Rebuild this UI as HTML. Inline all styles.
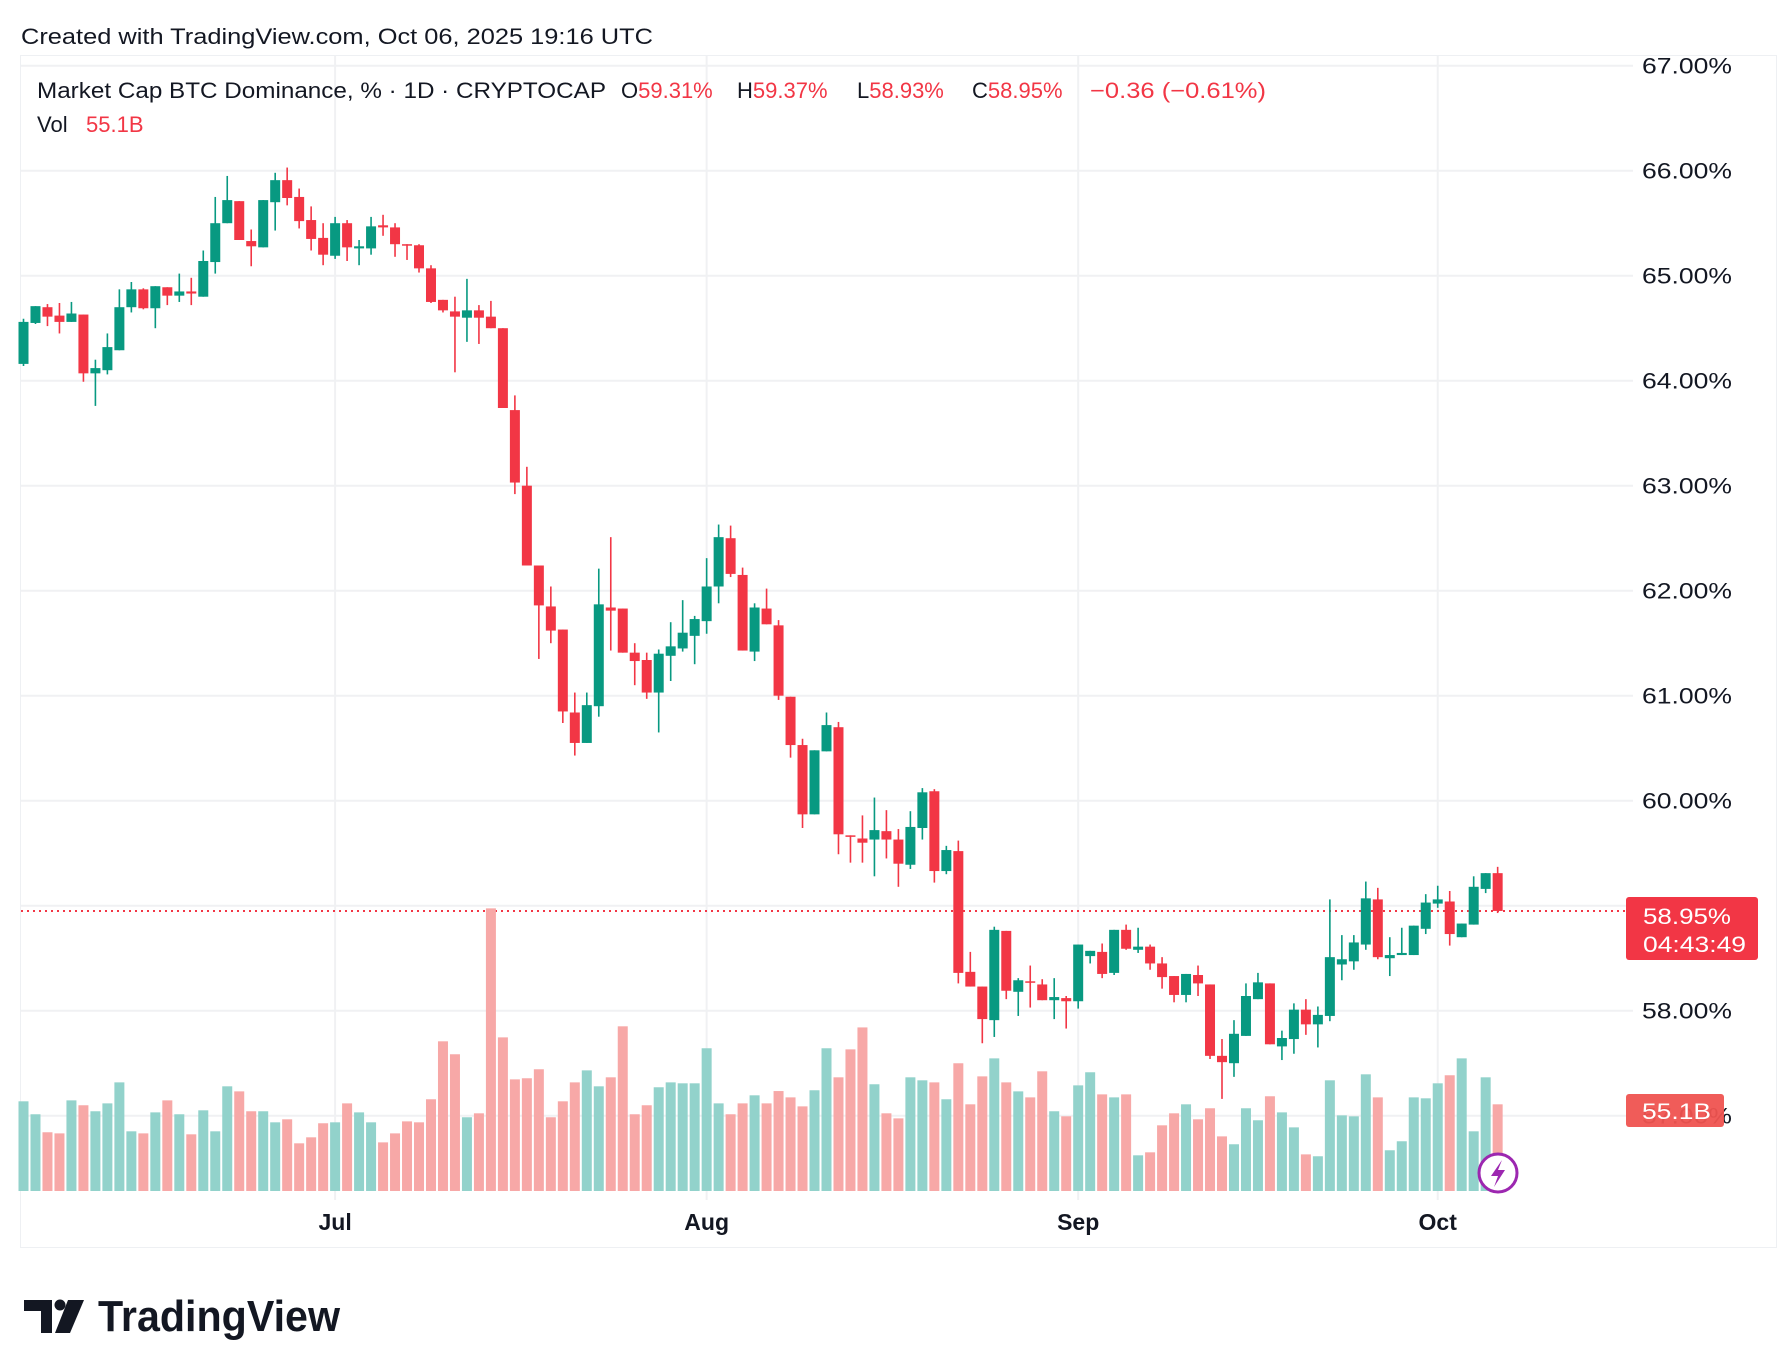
<!DOCTYPE html>
<html><head><meta charset="utf-8"><style>
html,body{margin:0;padding:0;background:#fff;}
svg{display:block;font-family:"Liberation Sans",sans-serif;}
</style></head><body>
<svg id="chart" width="1788" height="1368" viewBox="0 0 1788 1368" xmlns="http://www.w3.org/2000/svg">
<text x="21" y="44" font-size="22" fill="#131722" textLength="632" lengthAdjust="spacingAndGlyphs">Created with TradingView.com, Oct 06, 2025 19:16 UTC</text>
<rect x="20.5" y="55.5" width="1756" height="1192" fill="none" stroke="#eef0f3" stroke-width="1"/>
<g id="grid"></g>
<g id="vol"></g>
<g id="candles"></g>
<g id="yaxis"></g>
<g id="xaxis"></g>
<g font-size="22">
<text x="37" y="98" fill="#131722" textLength="569" lengthAdjust="spacingAndGlyphs">Market Cap BTC Dominance, % · 1D · CRYPTOCAP</text>
<text x="621" y="98" fill="#131722">O<tspan fill="#f23645">59.31%</tspan></text>
<text x="737" y="98" fill="#131722">H<tspan fill="#f23645">59.37%</tspan></text>
<text x="857" y="98" fill="#131722">L<tspan fill="#f23645">58.93%</tspan></text>
<text x="972" y="98" fill="#131722">C<tspan fill="#f23645">58.95%</tspan></text>
<text x="1090" y="98" fill="#f23645" textLength="176" lengthAdjust="spacingAndGlyphs">−0.36 (−0.61%)</text>
<text x="37" y="132" fill="#131722">Vol <tspan x="86" fill="#f23645">55.1B</tspan></text>
</g>
<g>
<rect x="1626" y="897" width="132" height="63" rx="3" fill="#f23645"/>
<text x="1643" y="924" font-size="22" fill="#fff" textLength="88" lengthAdjust="spacingAndGlyphs">58.95%</text>
<text x="1643" y="952" font-size="22" fill="#fff" textLength="103" lengthAdjust="spacingAndGlyphs">04:43:49</text>
</g>
<g>
<rect x="1626" y="1094" width="98" height="33" rx="3" fill="#ef5350" opacity="0.95"/>
<text x="1642" y="1119" font-size="22" fill="#fff" textLength="69" lengthAdjust="spacingAndGlyphs">55.1B</text>
</g>
<g>
<circle cx="1498" cy="1173" r="19" fill="#fff" stroke="#9c27b0" stroke-width="3"/>
<path d="M1502 1160 L1491 1176 L1498 1176 L1494 1187 L1505 1170 L1498 1170 Z" fill="#9c27b0"/>
</g>
<g>
<path d="M24 1300 H52 V1333 H41 V1311 H24 Z" fill="#131722"/>
<circle cx="60" cy="1305" r="5.5" fill="#131722"/>
<path d="M68 1300 H84 L70 1333 H55 Z" fill="#131722"/>
<text x="98" y="1331" font-size="44" font-weight="bold" fill="#131722" textLength="242" lengthAdjust="spacingAndGlyphs">TradingView</text>
</g>
</svg>
<script>
const opens=[64.16,64.55,64.70,64.62,64.56,64.63,64.07,64.10,64.29,64.70,64.87,64.69,64.89,64.81,64.85,64.80,65.13,65.50,65.71,65.33,65.27,65.70,65.91,65.75,65.53,65.36,65.19,65.50,65.26,65.26,65.48,65.46,65.30,65.29,65.07,64.77,64.66,64.60,64.67,64.61,64.50,63.72,63.00,62.24,61.85,61.63,60.84,60.55,60.90,61.84,61.83,61.41,61.34,61.03,61.38,61.45,61.57,61.71,62.04,62.50,62.15,61.42,61.83,61.67,60.99,60.53,59.87,60.47,60.70,59.67,59.64,59.63,59.71,59.63,59.39,59.74,60.09,59.33,59.52,58.37,58.23,57.91,58.76,58.18,58.28,58.25,58.10,58.12,58.09,58.52,58.56,58.36,58.77,58.58,58.61,58.45,58.33,58.15,58.34,58.25,57.57,57.50,57.76,58.11,58.26,57.66,57.73,58.01,57.87,57.95,58.44,58.47,58.63,59.06,58.50,58.53,58.53,58.78,59.02,59.04,58.70,58.82,59.16,59.31];
const highs=[64.59,64.71,64.73,64.74,64.75,64.63,64.20,64.45,64.87,64.94,64.88,64.90,64.89,65.02,64.98,65.24,65.75,65.95,65.71,65.44,65.72,65.98,66.03,65.83,65.66,65.50,65.56,65.53,65.34,65.56,65.58,65.50,65.30,65.30,65.10,64.77,64.80,64.97,64.72,64.76,64.50,63.86,63.18,62.24,62.04,61.63,61.03,61.03,62.21,62.51,61.83,61.50,61.41,61.44,61.70,61.91,61.76,62.31,62.63,62.62,62.22,61.88,62.02,61.72,60.99,60.59,60.48,60.84,60.75,59.67,59.86,60.03,59.91,59.73,59.90,60.12,60.11,59.57,59.62,58.56,58.23,58.80,58.76,58.31,58.43,58.30,58.31,58.14,58.63,58.57,58.64,58.77,58.82,58.79,58.63,58.51,58.33,58.35,58.43,58.25,57.73,57.91,58.26,58.36,58.26,57.81,58.07,58.11,58.04,59.06,58.72,58.72,59.23,59.17,58.70,58.79,58.81,59.11,59.19,59.14,58.83,59.28,59.31,59.37];
const lows=[64.14,64.54,64.52,64.45,64.56,63.99,63.76,64.06,64.29,64.65,64.68,64.50,64.72,64.75,64.72,64.80,65.02,65.50,65.34,65.09,65.27,65.43,65.67,65.45,65.24,65.10,65.16,65.14,65.10,65.20,65.38,65.18,65.15,65.03,64.74,64.65,64.08,64.37,64.35,64.50,63.74,62.92,62.24,61.35,61.50,60.74,60.43,60.55,60.80,61.43,61.41,61.10,60.97,60.65,61.14,61.42,61.30,61.59,61.88,62.13,61.43,61.33,61.68,60.96,60.41,59.74,59.87,60.47,59.49,59.41,59.41,59.28,59.45,59.18,59.35,59.63,59.22,59.30,58.26,58.23,57.69,57.75,58.11,57.95,58.03,58.10,57.92,57.83,58.02,58.45,58.31,58.34,58.58,58.55,58.39,58.21,58.08,58.08,58.14,57.54,57.16,57.37,57.76,58.11,57.68,57.53,57.59,57.77,57.65,57.90,58.29,58.39,58.58,58.49,58.33,58.53,58.53,58.73,58.98,58.62,58.70,58.82,59.12,58.93];
const closes=[64.56,64.71,64.61,64.56,64.64,64.07,64.12,64.32,64.70,64.87,64.69,64.90,64.81,64.85,64.83,65.14,65.50,65.72,65.34,65.28,65.72,65.91,65.74,65.52,65.35,65.20,65.50,65.27,65.28,65.47,65.46,65.30,65.29,65.07,64.75,64.67,64.61,64.67,64.60,64.50,63.74,63.03,62.24,61.86,61.62,60.85,60.55,60.91,61.87,61.81,61.41,61.33,61.03,61.40,61.47,61.60,61.73,62.04,62.51,62.16,61.43,61.84,61.68,61.00,60.53,59.87,60.48,60.72,59.68,59.66,59.60,59.72,59.63,59.40,59.75,60.08,59.33,59.53,58.36,58.23,57.92,58.77,58.19,58.29,58.27,58.10,58.13,58.09,58.63,58.57,58.35,58.77,58.59,58.61,58.45,58.32,58.15,58.35,58.26,57.57,57.51,57.78,58.14,58.27,57.68,57.74,58.01,57.87,57.96,58.51,58.49,58.65,59.07,58.51,58.53,58.55,58.81,59.03,59.06,58.73,58.83,59.18,59.31,58.95];
const volumes=[56.8,48.6,37.2,36.5,57.4,54.3,50.5,55.5,68.8,37.8,36.5,49.8,57.4,48.6,35.9,51.1,37.8,66.3,63.1,50.5,50.5,43.5,45.4,30.2,34.0,42.9,43.5,55.5,49.8,43.5,30.8,36.5,44.1,43.5,58.1,94.8,86.6,46.7,49.2,179.0,97.3,70.7,71.4,77.1,46.7,56.8,68.8,76.4,66.3,72.0,104.3,48.6,54.3,65.7,68.8,68.2,68.2,90.4,55.5,48.6,55.5,60.6,55.5,63.3,59.3,53.6,63.8,90.4,72.0,89.7,103.6,67.6,49.2,46.0,72.0,70.1,68.8,58.1,80.9,54.9,72.6,84.0,68.8,63.1,59.3,75.8,50.5,47.3,66.9,75.2,61.2,59.3,61.2,22.6,24.5,41.6,49.2,54.9,45.4,52.4,34.6,29.6,52.4,44.8,60.0,49.8,40.3,23.2,22.0,70.1,47.9,47.3,73.9,59.3,25.8,31.5,59.3,58.7,68.2,73.3,84.0,37.8,72.0,54.9];
const priceTicks=[67,66,65,64,63,62,61,60,59,58,57];
const dateLabels=["Jul","Aug","Sep","Oct"];
const dateIndex=[26,57,88,118];
const lastPrice=58.95;

const NS="http://www.w3.org/2000/svg";
const PLOT_L=21, PLOT_R=1633, PLOT_T=56, PLOT_B=1200, VOL_BASE=1191;
function xPos(i){return 23.5+11.985*i;}
function yPos(v){return 170.7+(66-v)*105;}
function vY(v){return VOL_BASE-v*1.579;}
function mk(tag,attrs,parent){const e=document.createElementNS(NS,tag);for(const k in attrs)e.setAttribute(k,attrs[k]);parent.appendChild(e);return e;}

const grid=document.getElementById('grid');
priceTicks.forEach((t)=>{
  const l=mk('line',{x1:PLOT_L,x2:PLOT_R,y1:yPos(t),y2:yPos(t),stroke:'#f0f1f3','stroke-width':2},grid);
  
  
});
dateIndex.forEach((d)=>{
  const l=mk('line',{x1:xPos(d),x2:xPos(d),y1:PLOT_T,y2:PLOT_B,stroke:'#f0f1f3','stroke-width':2},grid);
  
  
});

const vg=document.getElementById('vol');
volumes.forEach((v,i)=>{
  const up=closes[i]>=opens[i];
  const r=mk('rect',{x:xPos(i)-5,y:vY(v),width:10,height:VOL_BASE-vY(v),fill:up?'#92d2cb':'#f7a8a7'},vg);
  
  
});

const pl=mk('line',{x1:PLOT_L,x2:PLOT_R,y1:yPos(lastPrice),y2:yPos(lastPrice),stroke:'#f23645','stroke-width':2,'stroke-dasharray':'2 4'},grid);



const cg=document.getElementById('candles');
opens.forEach((o,i)=>{
  const c=closes[i], up=c>=o, col=up?'#089981':'#f23645';
  const g=mk('g',{},cg);
  
  
  mk('rect',{x:xPos(i)-0.8,y:yPos(highs[i]),width:1.6,height:Math.max(1,yPos(lows[i])-yPos(highs[i])),fill:col},g);
  const top=yPos(Math.max(o,c)), h=Math.max(1.5,Math.abs(yPos(o)-yPos(c)));
  mk('rect',{x:xPos(i)-5,y:top,width:10,height:h,fill:col},g);
});

const ya=document.getElementById('yaxis');
priceTicks.forEach((t)=>{
  const tx=mk('text',{x:1642,y:yPos(t)+8,'font-size':22,fill:'#131722',textLength:90,lengthAdjust:'spacingAndGlyphs'},ya);
  tx.textContent=t.toFixed(2)+'%';
  
  
});
const xa=document.getElementById('xaxis');
dateLabels.forEach((d,k)=>{
  const tx=mk('text',{x:xPos(dateIndex[k]),y:1230,'text-anchor':'middle','font-size':23,'font-weight':'bold',fill:'#131722'},xa);
  tx.textContent=d;
  
  
});
</script>
</body></html>
